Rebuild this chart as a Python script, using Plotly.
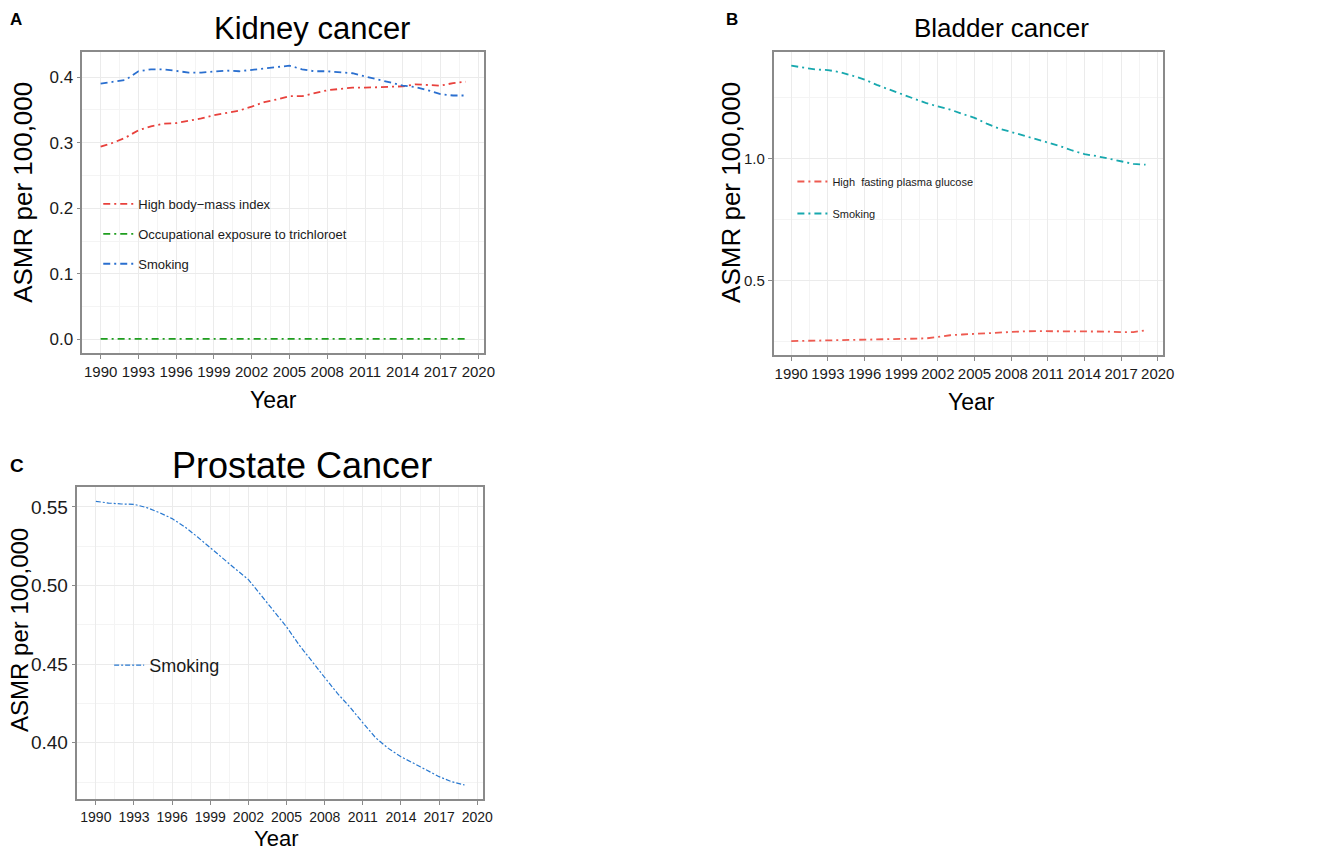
import plotly.graph_objects as go

years = list(range(1990, 2020))

# Panel A - Kidney cancer
kidney_bmi = [0.294, 0.300, 0.308, 0.319, 0.325, 0.329, 0.330, 0.333, 0.337, 0.342,
              0.346, 0.349, 0.355, 0.362, 0.366, 0.371, 0.371, 0.375, 0.380, 0.382,
              0.384, 0.384, 0.385, 0.385, 0.386, 0.389, 0.388, 0.387, 0.391, 0.393]
kidney_tce = [0.0006] * 30
kidney_smoking = [0.390, 0.393, 0.396, 0.409, 0.412, 0.412, 0.410, 0.407, 0.407, 0.408,
                  0.410, 0.409, 0.411, 0.414, 0.415, 0.4175, 0.412, 0.409, 0.409, 0.407,
                  0.406, 0.401, 0.397, 0.392, 0.387, 0.385, 0.380, 0.374, 0.372, 0.372]

# Panel B - Bladder cancer
bladder_fpg = [0.251, 0.251, 0.252, 0.254, 0.255, 0.256, 0.257, 0.258, 0.259, 0.260,
               0.261, 0.262, 0.268, 0.275, 0.278, 0.281, 0.284, 0.287, 0.290, 0.291,
               0.292, 0.292, 0.292, 0.291, 0.291, 0.291, 0.290, 0.288, 0.288, 0.295]
bladder_smoking = [1.381, 1.372, 1.365, 1.363, 1.354, 1.340, 1.324, 1.302, 1.283, 1.265,
                   1.246, 1.228, 1.214, 1.201, 1.183, 1.167, 1.143, 1.123, 1.109, 1.094,
                   1.082, 1.067, 1.051, 1.033, 1.018, 1.010, 0.999, 0.986, 0.978, 0.975]

# Panel C - Prostate cancer
prostate_smoking = [0.5536, 0.5525, 0.5519, 0.5517, 0.5496, 0.5464, 0.5426, 0.5373, 0.5309, 0.5239,
                    0.5172, 0.5104, 0.5038, 0.4939, 0.4839, 0.4737, 0.4621, 0.4515, 0.4415, 0.4314,
                    0.4225, 0.4127, 0.4032, 0.3964, 0.3911, 0.3869, 0.3826, 0.3784, 0.3752, 0.3731]

# page body keeps its default 8px margin, so the figure is drawn 8px in
OFF = 8
W, H = 1325 - OFF, 853 - OFF
SANS = "Liberation Sans, Arial"
AXIS_GRAY = "#8a8a8a"
DASH = "7px,4px,2px,4px"


def px_x(x):
    return (x - OFF) / W


def px_y(y):
    return 1 - (y - OFF) / H


fig = go.Figure()

# panel A traces
for name, vals, color, grp in [
    ("High body\u2212mass index", kidney_bmi, "#E8413C", "a1"),
    ("Occupational exposure to trichloroet", kidney_tce, "#1F9E1F", "a2"),
    ("Smoking", kidney_smoking, "#2A6FCF", "a3"),
]:
    fig.add_trace(go.Scatter(x=years, y=vals, mode="lines", name=name,
                             line=dict(color=color, width=1.8, dash=DASH),
                             xaxis="x", yaxis="y", legend="legend", legendgroup=grp))

# panel B traces
for name, vals, color, grp in [
    ("High\u00a0 fasting plasma glucose", bladder_fpg, "#EE5A50", "b1"),
    ("Smoking", bladder_smoking, "#17A8AE", "b2"),
]:
    fig.add_trace(go.Scatter(x=years, y=vals, mode="lines", name=name,
                             line=dict(color=color, width=1.8, dash=DASH),
                             xaxis="x2", yaxis="y2", legend="legend2", legendgroup=grp))

# panel C trace
fig.add_trace(go.Scatter(x=years, y=prostate_smoking, mode="lines", name="Smoking",
                         line=dict(color="#2878D0", width=1.2, dash="5px,2px,2px,2px"),
                         xaxis="x3", yaxis="y3", legend="legend3"))


def xaxis(domain, anchor, tickfont):
    return dict(domain=domain, anchor=anchor, range=[1988.55, 2020.45],
                tickvals=list(range(1990, 2021, 3)), tickangle=0,
                ticks="outside", ticklen=4, tickcolor=AXIS_GRAY,
                tickfont=dict(family=SANS, size=tickfont, color="#1a1a1a"),
                showgrid=True, gridcolor="#ebebeb", gridwidth=1.2,
                minor=dict(tick0=1990, dtick=1.5, showgrid=True, gridcolor="#f4f4f4", gridwidth=0.8),
                showline=True, mirror=True, linecolor=AXIS_GRAY, linewidth=1.5,
                zeroline=False, fixedrange=True)


def yaxis(domain, anchor, rng, dtick, fmt, tickfont):
    return dict(domain=domain, anchor=anchor, range=rng, tick0=0, dtick=dtick,
                tickformat=fmt, ticks="outside", ticklen=4, tickcolor=AXIS_GRAY,
                tickfont=dict(family=SANS, size=tickfont, color="#1a1a1a"),
                showgrid=True, gridcolor="#ebebeb", gridwidth=1.2,
                minor=dict(tick0=0, dtick=dtick / 2, showgrid=True, gridcolor="#f4f4f4", gridwidth=0.8),
                showline=True, mirror=True, linecolor=AXIS_GRAY, linewidth=1.5,
                zeroline=False, fixedrange=True)


def legend(x, y, size, gap):
    return dict(x=x, y=y, xanchor="left", yanchor="top", bgcolor="rgba(0,0,0,0)",
                font=dict(family=SANS, size=size, color="#1a1a1a"),
                tracegroupgap=gap, traceorder="grouped", itemwidth=30)


fig.update_layout(
    width=W, height=H, margin=dict(l=0, r=0, t=0, b=0),
    paper_bgcolor="white", plot_bgcolor="white", showlegend=True,
    xaxis=xaxis([px_x(83), px_x(488)], "y", 15),
    yaxis=yaxis([px_y(353), px_y(52)], "x", [-0.0209, 0.4384], 0.1, ".1f", 17),
    xaxis2=xaxis([px_x(780), px_x(1173)], "y2", 15),
    yaxis2=yaxis([px_y(355), px_y(52)], "x2", [0.194, 1.437], 0.5, ".1f", 15),
    xaxis3=xaxis([px_x(78), px_x(487)], "y3", 14),
    yaxis3=yaxis([px_y(799), px_y(487)], "x3", [0.3642, 0.5627], 0.05, ".2f", 19),
    legend=legend(px_x(99), px_y(189), 13, 10),
    legend2=legend(px_x(799), px_y(167), 11, 13),
    legend3=legend(px_x(110), px_y(647), 18, 10),
)

texts = [
    # text, x px, y px, size, bold, angle, x anchor, y anchor
    ("A", 9, 9, 17, True, 0, "left", "top"),
    ("B", 731, 9, 17, True, 0, "left", "top"),
    ("C", 9, 465, 19, True, 0, "left", "middle"),
    ("Kidney cancer", 315, 28, 31, False, 0, "center", "middle"),
    ("Bladder cancer", 1010, 28, 26, False, 0, "center", "middle"),
    ("Prostate Cancer", 304, 465, 36, False, 0, "center", "middle"),
    ("ASMR per 100,000", 23, 192, 26, False, -90, "center", "middle"),
    ("ASMR per 100,000", 737, 192, 26, False, -90, "center", "middle"),
    ("ASMR per 100,000", 19, 630, 24, False, -90, "center", "middle"),
    ("Year", 276, 400, 23, False, 0, "center", "middle"),
    ("Year", 980, 402, 23, False, 0, "center", "middle"),
    ("Year", 278, 838, 22, False, 0, "center", "middle"),
]
for t, x, y, size, bold, angle, xa, ya in texts:
    fig.add_annotation(text=f"<b>{t}</b>" if bold else t, x=px_x(x), y=px_y(y),
                       xref="paper", yref="paper", xanchor=xa, yanchor=ya,
                       showarrow=False, textangle=angle, borderpad=0,
                       font=dict(family=SANS, size=size, color="black"))

fig.write_html("out.html")
